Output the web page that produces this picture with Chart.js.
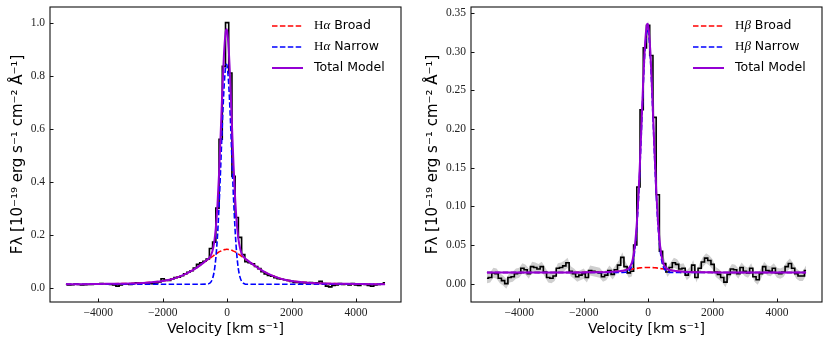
<!DOCTYPE html>
<html>
<head>
<meta charset="utf-8">
<title>Halpha / Hbeta fits</title>
<script src="https://cdn.jsdelivr.net/npm/chart.js@4"></script>
<style>
  html, body { margin: 0; padding: 0; background: #fff; }
  #wrap { position: relative; width: 830px; height: 346px; }
  canvas { position: absolute; top: 0; }
  #ha { left: 0; }
  #hb { left: 415px; }
</style>
</head>
<body>
<div id="wrap">
  <canvas id="ha" width="415" height="346" style="width:415px;height:346px"></canvas>
  <canvas id="hb" width="415" height="346" style="width:415px;height:346px"></canvas>
</div>
<script>
// Observed spectra: one value per velocity bin, bins start at -5000 km/s, 100 km/s wide
const BIN_START = -5000;
const BIN_WIDTH = 100;

const HA_OBS = [
  0.012, 0.010, 0.011, 0.014, 0.012, 0.010, 0.011, 0.012, 0.012, 0.014,
  0.015, 0.016, 0.015, 0.014, 0.012, 0.010, 0.006, 0.010, 0.013, 0.014,
  0.012, 0.016, 0.018, 0.017, 0.018, 0.016, 0.017, 0.015, 0.018, 0.022,
  0.034, 0.028, 0.027, 0.033, 0.038, 0.040, 0.045, 0.052, 0.058, 0.064,
  0.074, 0.088, 0.094, 0.100, 0.108, 0.148, 0.172, 0.300, 0.560, 0.835,
  1.000, 0.810, 0.420, 0.265, 0.190, 0.125, 0.098, 0.094, 0.090, 0.080,
  0.072, 0.060, 0.052, 0.046, 0.043, 0.038, 0.034, 0.032, 0.030, 0.027,
  0.024, 0.020, 0.020, 0.018, 0.019, 0.018, 0.019, 0.016, 0.018, 0.024,
  0.016, 0.006, 0.003, 0.008, 0.010, 0.016, 0.012, 0.013, 0.010, 0.016,
  0.010, 0.008, 0.014, 0.012, 0.008, 0.006, 0.010, 0.012, 0.014, 0.018
];
const HA_ERR = 0.003;

const HB_OBS = [
  0.007, 0.008, 0.014, 0.013, 0.007, 0.004, 0.000, 0.008, 0.009, 0.013,
  0.014, 0.020, 0.018, 0.013, 0.022, 0.021, 0.019, 0.022, 0.015, 0.008,
  0.007, 0.010, 0.020, 0.021, 0.023, 0.027, 0.016, 0.013, 0.009, 0.011,
  0.013, 0.008, 0.017, 0.016, 0.015, 0.014, 0.009, 0.011, 0.017, 0.012,
  0.018, 0.024, 0.034, 0.022, 0.014, 0.016, 0.050, 0.125, 0.225, 0.305,
  0.334, 0.295, 0.215, 0.115, 0.042, 0.026, 0.015, 0.021, 0.027, 0.025,
  0.019, 0.020, 0.011, 0.015, 0.024, 0.008, 0.020, 0.028, 0.033, 0.030,
  0.025, 0.015, 0.012, 0.008, 0.002, 0.012, 0.019, 0.018, 0.013, 0.021,
  0.016, 0.014, 0.020, 0.009, 0.005, 0.013, 0.022, 0.017, 0.016, 0.020,
  0.014, 0.013, 0.015, 0.022, 0.026, 0.020, 0.013, 0.010, 0.010, 0.017
];
const HB_ERR = 0.0065;

// Model curves at these velocities
const HA_MODEL_V = [
  -5000, -4500, -4000, -3500, -3000, -2500, -2000, -1750, -1500, -1250,
  -1000, -800, -600, -550, -500, -450, -400, -350, -300, -250,
  -200, -150, -100, -50, -20, 0, 50, 100, 150, 200,
  250, 300, 350, 400, 450, 500, 550, 600, 800, 1000,
  1250, 1500, 1750, 2000, 2500, 3000, 3500, 4000, 4500, 4900
];
const HA_BROAD = [
  0.013, 0.013, 0.014, 0.015, 0.016, 0.019, 0.025, 0.031, 0.041, 0.054,
  0.071, 0.088, 0.106, 0.110, 0.114, 0.118, 0.123, 0.127, 0.131, 0.135,
  0.138, 0.141, 0.143, 0.144, 0.145, 0.145, 0.144, 0.143, 0.141, 0.138,
  0.135, 0.131, 0.127, 0.123, 0.118, 0.114, 0.110, 0.106, 0.088, 0.071,
  0.054, 0.041, 0.031, 0.025, 0.019, 0.016, 0.015, 0.014, 0.013, 0.013
];
const HA_NARROW = [
  0.013, 0.013, 0.013, 0.013, 0.013, 0.013, 0.013, 0.013, 0.013, 0.013,
  0.013, 0.013, 0.014, 0.016, 0.022, 0.035, 0.062, 0.112, 0.193, 0.308,
  0.454, 0.610, 0.745, 0.829, 0.843, 0.837, 0.767, 0.640, 0.485, 0.336,
  0.213, 0.125, 0.070, 0.040, 0.024, 0.017, 0.014, 0.013, 0.013, 0.013,
  0.013, 0.013, 0.013, 0.013, 0.013, 0.013, 0.013, 0.013, 0.013, 0.013
];
const HA_TOTAL = [
  0.013, 0.013, 0.014, 0.015, 0.016, 0.019, 0.025, 0.031, 0.041, 0.054,
  0.071, 0.088, 0.107, 0.113, 0.123, 0.140, 0.172, 0.226, 0.311, 0.430,
  0.579, 0.738, 0.875, 0.960, 0.975, 0.969, 0.898, 0.770, 0.613, 0.461,
  0.335, 0.243, 0.184, 0.150, 0.129, 0.118, 0.111, 0.106, 0.088, 0.071,
  0.054, 0.041, 0.031, 0.025, 0.019, 0.016, 0.015, 0.014, 0.013, 0.013
];

const HB_MODEL_V = [
  -5000, -4000, -3000, -2000, -1500, -1250, -1000, -800, -700, -600,
  -500, -450, -400, -350, -300, -250, -200, -150, -100, -50,
  -20, 0, 50, 100, 150, 200, 250, 300, 350, 400,
  450, 500, 600, 700, 800, 1000, 1250, 1500, 2000, 3000,
  4000, 4900
];
const HB_BROAD = [
  0.0145, 0.0145, 0.0145, 0.0146, 0.0148, 0.0151, 0.0157, 0.0167, 0.0174, 0.0180,
  0.0188, 0.0192, 0.0195, 0.0198, 0.0201, 0.0204, 0.0206, 0.0208, 0.0209, 0.0210,
  0.0210, 0.0210, 0.0210, 0.0209, 0.0208, 0.0206, 0.0204, 0.0201, 0.0198, 0.0195,
  0.0192, 0.0188, 0.0180, 0.0174, 0.0167, 0.0157, 0.0151, 0.0148, 0.0146, 0.0145,
  0.0145, 0.0145
];
const HB_NARROW = [
  0.0145, 0.0145, 0.0145, 0.0145, 0.0145, 0.0145, 0.0145, 0.0145, 0.0147, 0.0163,
  0.0235, 0.0327, 0.0484, 0.0732, 0.1084, 0.1537, 0.2055, 0.2572, 0.2999, 0.3252,
  0.3295, 0.3276, 0.3065, 0.2668, 0.2162, 0.1638, 0.1168, 0.0794, 0.0525, 0.0352,
  0.0249, 0.0194, 0.0153, 0.0146, 0.0145, 0.0145, 0.0145, 0.0145, 0.0145, 0.0145,
  0.0145, 0.0145
];
const HB_TOTAL = [
  0.0145, 0.0145, 0.0145, 0.0146, 0.0148, 0.0151, 0.0157, 0.0167, 0.0176, 0.0198,
  0.0278, 0.0374, 0.0534, 0.0785, 0.1140, 0.1596, 0.2116, 0.2635, 0.3063, 0.3317,
  0.3360, 0.3341, 0.3130, 0.2732, 0.2225, 0.1699, 0.1227, 0.0850, 0.0578, 0.0402,
  0.0296, 0.0237, 0.0188, 0.0175, 0.0167, 0.0157, 0.0151, 0.0148, 0.0146, 0.0145,
  0.0145, 0.0145
];

// Axis ticks
const X_TICKS = [-4000, -2000, 0, 2000, 4000];
const HA_Y_TICKS = [0, 0.2, 0.4, 0.6, 0.8, 1.0];
const HB_Y_TICKS = [0, 0.05, 0.10, 0.15, 0.20, 0.25, 0.30, 0.35];

const COLORS = { broad: '#ff0000', narrow: '#0000ff', total: '#9400d3', obs: '#000000', band: '#cfcfcf' };
const DASH = [5.5, 2.4];

function minusSign(s) { return s.replace('-', '\u2212'); }

function binPoints(values, offset) {
  return values.map((y, i) => ({ x: BIN_START + i * BIN_WIDTH, y: y + offset }));
}

function curvePoints(xs, ys) {
  return xs.map((x, i) => ({ x: x, y: ys[i] }));
}

// Box around the axes, inward tick marks, and the legend in the upper right
const framePlugin = {
  id: 'frame',
  afterDraw(chart) {
    const { ctx, chartArea: a, scales } = chart;
    ctx.save();
    ctx.strokeStyle = '#111';
    ctx.lineWidth = 1.1;
    ctx.strokeRect(a.left, a.top, a.right - a.left, a.bottom - a.top);

    ctx.lineWidth = 1;
    ctx.beginPath();
    X_TICKS.forEach(v => {
      const px = Math.round(scales.x.getPixelForValue(v)) + 0.5;
      ctx.moveTo(px, a.bottom);
      ctx.lineTo(px, a.bottom - 3.5);
    });
    chart.options.yTickValues.forEach(v => {
      const py = Math.round(scales.y.getPixelForValue(v)) + 0.5;
      ctx.moveTo(a.left, py);
      ctx.lineTo(a.left + 3.5, py);
    });
    ctx.stroke();

    // legend
    const items = chart.data.datasets.filter(d => d.inLegend);
    items.forEach((d, i) => {
      const y = a.top + 19 + i * 21;
      ctx.strokeStyle = d.borderColor;
      ctx.lineWidth = d.borderWidth;
      ctx.setLineDash(d.borderDash || []);
      ctx.beginPath();
      ctx.moveTo(a.right - 129, y);
      ctx.lineTo(a.right - 98, y);
      ctx.stroke();
      ctx.setLineDash([]);

      ctx.fillStyle = '#000';
      ctx.textBaseline = 'middle';
      ctx.textAlign = 'left';
      let x = a.right - 87;
      const m = d.label.match(/^(H)([\u03b1\u03b2])(.*)$/);
      const parts = m
        ? [[m[1], '13px "Liberation Serif"'], [m[2], 'italic 13px "Liberation Serif"'], [m[3], '12.5px "DejaVu Sans"']]
        : [[d.label, '12.5px "DejaVu Sans"']];
      parts.forEach(([t, f]) => {
        ctx.font = f;
        ctx.fillText(t, x, y);
        x += ctx.measureText(t).width;
      });
    });
    ctx.restore();
  }
};

function makePanel(id, p) {
  const datasets = [
    { label: 'err+', data: binPoints(p.obs, p.err), borderColor: 'rgba(0,0,0,0)', borderWidth: 0,
      pointRadius: 0, fill: false, order: 6 },
    { label: 'err-', data: binPoints(p.obs, -p.err), borderColor: 'rgba(0,0,0,0)', borderWidth: 0,
      pointRadius: 0, fill: '-1', backgroundColor: COLORS.band, order: 6 },
    { label: 'Observed', data: binPoints(p.obs, 0), borderColor: COLORS.obs, borderWidth: 1.6,
      stepped: 'middle', pointRadius: 0, fill: false, order: 4 },
    { label: p.line + ' Broad', data: curvePoints(p.modelV, p.broad), borderColor: COLORS.broad,
      borderWidth: 1.6, borderDash: DASH, pointRadius: 0, fill: false, order: 3, inLegend: true,
      cubicInterpolationMode: 'monotone' },
    { label: p.line + ' Narrow', data: curvePoints(p.modelV, p.narrow), borderColor: COLORS.narrow,
      borderWidth: 1.6, borderDash: DASH, pointRadius: 0, fill: false, order: 2, inLegend: true,
      cubicInterpolationMode: 'monotone' },
    { label: 'Total Model', data: curvePoints(p.modelV, p.total), borderColor: COLORS.total,
      borderWidth: 2, pointRadius: 0, fill: false, order: 1, inLegend: true,
      cubicInterpolationMode: 'monotone' }
  ];

  return new Chart(document.getElementById(id), {
    type: 'line',
    data: { datasets },
    plugins: [framePlugin],
    options: {
      responsive: false,
      animation: false,
      devicePixelRatio: 1,
      events: [],
      yTickValues: p.yTicks,
      layout: { padding: { left: 4, top: 7, right: p.padRight, bottom: 4 } },
      plugins: { legend: { display: false }, tooltip: { enabled: false } },
      scales: {
        x: {
          type: 'linear',
          min: -5495,
          max: 5395,
          grid: { display: false, drawTicks: false },
          border: { display: false },
          afterBuildTicks: s => { s.ticks = X_TICKS.map(v => ({ value: v })); },
          ticks: {
            callback: v => minusSign(String(v)),
            font: { family: 'Liberation Serif', size: 11.5 },
            color: '#222',
            padding: 4,
            maxRotation: 0,
            autoSkip: false
          },
          title: {
            display: true,
            text: 'Velocity [km s\u207b\u00b9]',
            font: { family: 'DejaVu Sans', size: 14 },
            color: '#000',
            padding: { top: 0, bottom: 4 }
          },
          afterFit: s => { s.height = 40; s.paddingLeft = 0; s.paddingRight = 0; }
        },
        y: {
          type: 'linear',
          min: p.yMin,
          max: p.yMax,
          grid: { display: false, drawTicks: false },
          border: { display: false },
          afterBuildTicks: s => { s.ticks = p.yTicks.map(v => ({ value: v })); },
          ticks: {
            callback: v => minusSign(v.toFixed(p.decimals)),
            font: { family: 'Liberation Serif', size: 11.5 },
            color: '#222',
            padding: 5,
            autoSkip: false
          },
          title: {
            display: true,
            text: 'F\u03bb [10\u207b\u00b9\u2079 erg s\u207b\u00b9 cm\u207b\u00b2 \u00c5\u207b\u00b9]',
            font: { family: 'DejaVu Sans', size: 15 },
            color: '#000',
            padding: { top: 5, bottom: 0 }
          },
          afterFit: s => { s.width = p.yAxisWidth; s.paddingTop = 0; s.paddingBottom = 0; }
        }
      }
    }
  });
}

makePanel('ha', {
  line: 'H\u03b1',
  obs: HA_OBS, err: HA_ERR,
  modelV: HA_MODEL_V, broad: HA_BROAD, narrow: HA_NARROW, total: HA_TOTAL,
  yMin: -0.054, yMax: 1.059, yTicks: HA_Y_TICKS, decimals: 1,
  yAxisWidth: 46, padRight: 14
});

makePanel('hb', {
  line: 'H\u03b2',
  obs: HB_OBS, err: HB_ERR,
  modelV: HB_MODEL_V, broad: HB_BROAD, narrow: HB_NARROW, total: HB_TOTAL,
  yMin: -0.0237, yMax: 0.3578, yTicks: HB_Y_TICKS, decimals: 2,
  yAxisWidth: 52, padRight: 8
});
</script>
</body>
</html>
